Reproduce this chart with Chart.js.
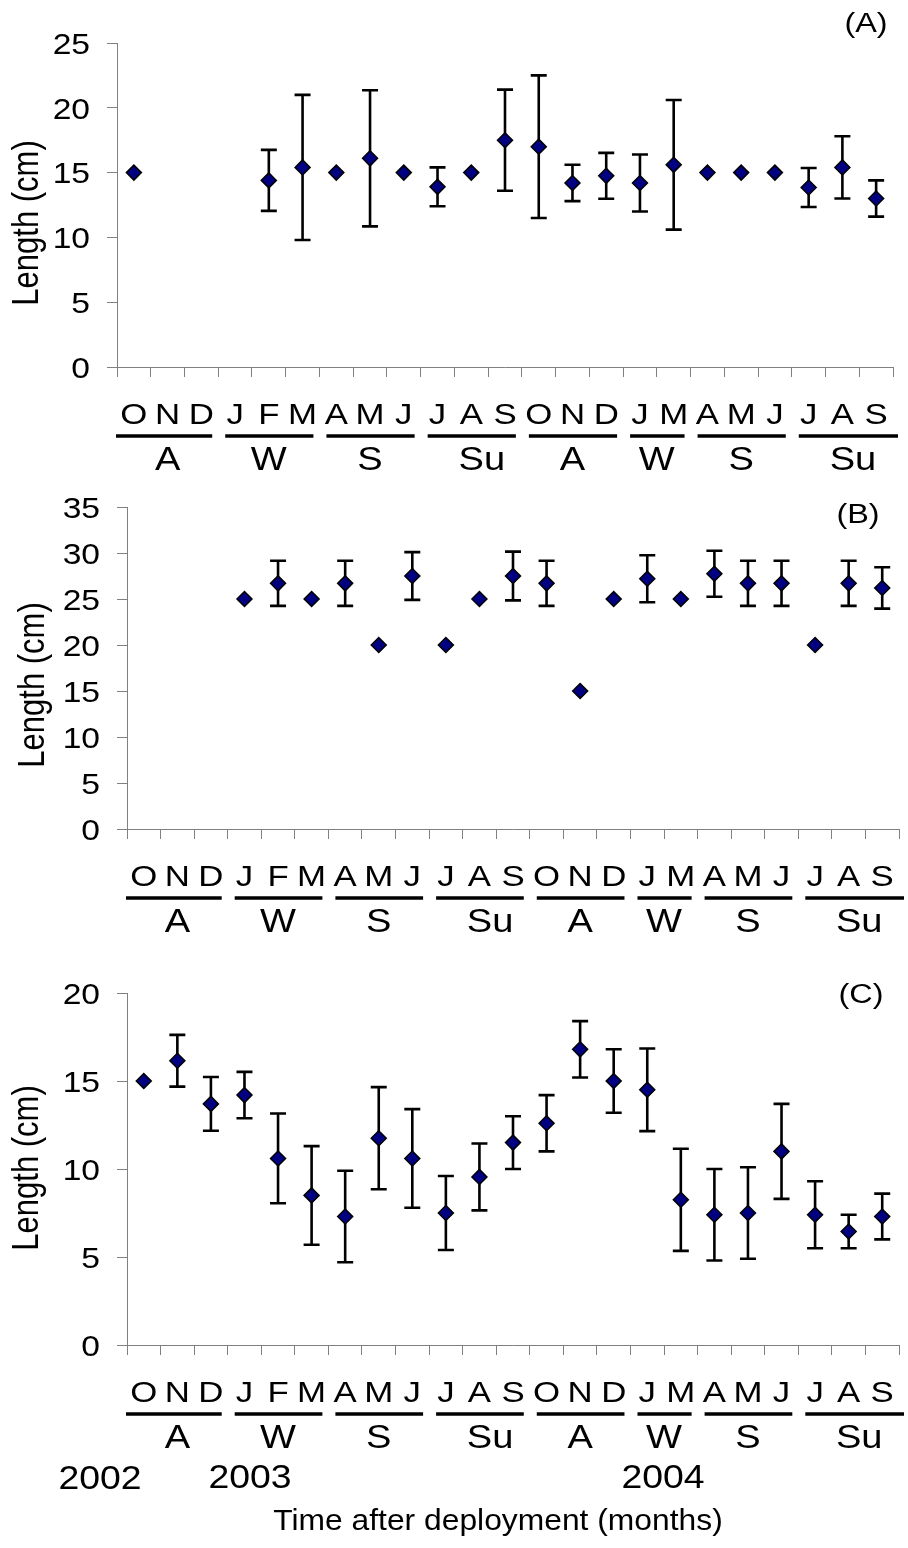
<!DOCTYPE html>
<html>
<head>
<meta charset="utf-8">
<script src="https://cdn.jsdelivr.net/npm/chart.js@4.4.0/dist/chart.umd.min.js"></script>
<style>
  html, body { margin: 0; padding: 0; background: #ffffff; }
  #wrap { position: relative; width: 908px; height: 1548px; }
  canvas { position: absolute; left: 0; }
</style>
</head>
<body>
<div id="wrap">
  <canvas id="chartA" width="908" height="480" style="top:0px"></canvas>
  <canvas id="chartB" width="908" height="480" style="top:480px"></canvas>
  <canvas id="chartC" width="908" height="588" style="top:960px"></canvas>
</div>
<script>
// months after deployment, Oct 2002 .. Sep 2004 (no Feb 2004 sample)
const months = ['O', 'N', 'D', 'J', 'F', 'M', 'A', 'M', 'J', 'J', 'A', 'S',
                'O', 'N', 'D', 'J', 'M', 'A', 'M', 'J', 'J', 'A', 'S'];
const seasons = ['A', 'W', 'S', 'Su', 'A', 'W', 'S', 'Su'];
const seasonFirst = [0, 3, 6, 9, 12, 15, 17, 20];
const seasonLast = [2, 5, 8, 11, 14, 16, 19, 22];
const years = ['2002', '2003', '2004'];

// panel A
const meanA = [15, null, null, null, 14.4, 15.4, 15, 16.1, 15, 13.9, 15, 17.5,
               17, 14.2, 14.75, 14.2, 15.6, 15, 15, 15, 13.85, 15.4, 13];
const sdA = [0, null, null, null, 2.35, 5.6, 0, 5.25, 0, 1.5, 0, 3.9,
             5.5, 1.4, 1.77, 2.2, 5.0, 0, 0, 0, 1.5, 2.4, 1.4];

// panel B
const meanB = [null, null, null, 25, 26.7, 25, 26.7, 20, 27.5, 20, 25, 27.5,
               26.7, 15, 25, 27.2, 25, 27.75, 26.7, 26.7, 20, 26.7, 26.2];
const sdB = [null, null, null, 0, 2.45, 0, 2.45, 0, 2.6, 0, 0, 2.65,
             2.45, 0, 0, 2.56, 0, 2.5, 2.45, 2.45, 0, 2.45, 2.25];

// panel C
const meanC = [15, 16.15, 13.7, 14.2, 10.6, 8.5, 7.3, 11.75, 10.6, 7.5, 9.55, 11.5,
               12.6, 16.8, 15.0, 14.5, 8.25, 7.4, 7.5, 11.0, 7.4, 6.45, 7.3];
const sdC = [0, 1.47, 1.53, 1.32, 2.55, 2.8, 2.6, 2.9, 2.8, 2.1, 1.9, 1.5,
             1.6, 1.6, 1.8, 2.35, 2.9, 2.6, 2.6, 2.7, 1.9, 0.95, 1.3];

const FONT = '"Liberation Sans", Arial, sans-serif';
const AXIS_GRAY = '#808080';

// text drawn slightly wider than tall, as in the original figure
function capText(ctx, s, x, cy, size, sx, align) {
  ctx.save();
  ctx.font = size + 'px ' + FONT;
  ctx.fillStyle = '#000';
  ctx.textAlign = align || 'center';
  ctx.textBaseline = 'alphabetic';
  ctx.translate(x, cy + size * 0.358);
  ctx.scale(sx, 1);
  ctx.fillText(s, 0, 0);
  ctx.restore();
}

function midText(ctx, s, x, cy, size, sx) {
  ctx.save();
  ctx.font = size + 'px ' + FONT;
  ctx.fillStyle = '#000';
  ctx.textAlign = 'center';
  ctx.textBaseline = 'middle';
  ctx.translate(x, cy);
  ctx.scale(sx, 1);
  ctx.fillText(s, 0, 0);
  ctx.restore();
}

const errorBars = {
  id: 'errorBars',
  beforeDatasetsDraw(chart) {
    const ctx = chart.ctx;
    const xs = chart.scales.x, ys = chart.scales.y;
    const { means, sds } = chart.options.plugins.errorBars;
    ctx.save();
    ctx.strokeStyle = '#000';
    ctx.lineWidth = 2.6;
    means.forEach((m, i) => {
      const sd = sds[i];
      if (m === null || !sd) return;
      const x = xs.getPixelForValue(i + 0.5);
      const yTop = ys.getPixelForValue(m + sd);
      const yBot = ys.getPixelForValue(m - sd);
      ctx.beginPath();
      ctx.moveTo(x, yTop); ctx.lineTo(x, yBot);
      ctx.moveTo(x - 8, yTop); ctx.lineTo(x + 8, yTop);
      ctx.moveTo(x - 8, yBot); ctx.lineTo(x + 8, yBot);
      ctx.stroke();
    });
    ctx.restore();
  }
};

function makeTextPlugin(p) {
  return {
    id: 'panelText',
    afterDraw(chart) {
      const ctx = chart.ctx;
      const xs = chart.scales.x, ys = chart.scales.y;
      const base = chart.chartArea.bottom;

      // y tick labels
      ys.ticks.forEach(t => {
        capText(ctx, String(t.value), p.tickRight, ys.getPixelForValue(t.value), 30, 1.12, 'right');
      });

      // y axis title
      ctx.save();
      ctx.font = '31px ' + FONT;
      ctx.fillStyle = '#000';
      ctx.textAlign = 'center';
      ctx.textBaseline = 'middle';
      ctx.translate(p.titleX, p.titleY);
      ctx.rotate(-Math.PI / 2);
      ctx.scale(1, 1.2);
      ctx.fillText('Length (cm)', 0, 0);
      ctx.restore();

      // month letters
      months.forEach((m, i) => {
        capText(ctx, m, xs.getPixelForValue(i + 0.5), base + 47, 29, 1.2);
      });

      // season underlines and labels
      ctx.save();
      ctx.strokeStyle = '#000';
      ctx.lineWidth = 3.5;
      seasons.forEach((s, k) => {
        let x0 = xs.getPixelForValue(seasonFirst[k]) + 7;
        let x1 = xs.getPixelForValue(seasonLast[k] + 1) - 6;
        if (k === 0) x0 = xs.getPixelForValue(0) - 1;
        if (k === seasons.length - 1) x1 = Math.min(xs.getPixelForValue(seasonLast[k] + 1) + 5, chart.width);
        ctx.beginPath();
        ctx.moveTo(x0, base + 69);
        ctx.lineTo(x1, base + 69);
        ctx.stroke();
        const cx = xs.getPixelForValue((seasonFirst[k] + seasonLast[k] + 1) / 2);
        if (s.length > 1) {
          // first letter sits over the centre of the group
          ctx.save();
          ctx.font = '34px ' + FONT;
          const w = ctx.measureText(s[0]).width * 1.12;
          ctx.restore();
          capText(ctx, s, cx - w / 2, base + 91, 34, 1.12, 'left');
        } else {
          capText(ctx, s, cx, base + 91, 34, 1.12);
        }
      });
      ctx.restore();

      // panel tag
      midText(ctx, p.tag, p.tagX, p.tagY, 27, 1.2);

      // years and x title on the last panel
      if (p.yearX) {
        years.forEach((y, k) => {
          capText(ctx, y, p.yearX[k], p.yearY[k], 34, 1.1);
        });
        midText(ctx, 'Time after deployment (months)', 498, p.xTitleY, 30, 1.06);
      }
    }
  };
}

function makePanel(p) {
  const points = [];
  p.means.forEach((m, i) => { if (m !== null) points.push({ x: i + 0.5, y: m }); });
  const gridOpts = {
    drawOnChartArea: false,
    drawTicks: true,
    tickLength: 10,
    color: AXIS_GRAY,
    lineWidth: 1
  };
  return new Chart(document.getElementById(p.id), {
    type: 'scatter',
    data: {
      datasets: [{
        data: points,
        pointStyle: 'rectRot',
        pointRadius: 7.5,
        backgroundColor: '#000080',
        borderColor: '#000000',
        borderWidth: 1.5
      }]
    },
    options: {
      responsive: false,
      animation: false,
      events: [],
      layout: { padding: { top: p.area.top, left: 0, right: p.width - p.area.right, bottom: 0 } },
      plugins: {
        legend: { display: false },
        tooltip: { enabled: false },
        errorBars: { means: p.means, sds: p.sds }
      },
      scales: {
        x: {
          type: 'linear',
          min: 0,
          max: months.length,
          afterFit: s => { s.height = p.height - p.area.bottom; },
          ticks: { display: false, stepSize: 1, maxTicksLimit: 40 },
          grid: gridOpts,
          border: { display: true, color: AXIS_GRAY, width: 1 }
        },
        y: {
          type: 'linear',
          min: 0,
          max: p.yMax,
          afterFit: s => { s.width = p.area.left; },
          ticks: { display: false, stepSize: 5 },
          grid: gridOpts,
          border: { display: true, color: AXIS_GRAY, width: 1 }
        }
      }
    },
    plugins: [errorBars, makeTextPlugin(p)]
  });
}

makePanel({
  id: 'chartA', width: 908, height: 480, means: meanA, sds: sdA, yMax: 25,
  area: { left: 117, top: 43, right: 893, bottom: 367 },
  tickRight: 90, titleX: 28, titleY: 223, tag: '(A)', tagX: 866, tagY: 25
});
makePanel({
  id: 'chartB', width: 908, height: 480, means: meanB, sds: sdB, yMax: 35,
  area: { left: 127, top: 27, right: 908, bottom: 349 },
  tickRight: 100, titleX: 34, titleY: 205, tag: '(B)', tagX: 858, tagY: 36
});
makePanel({
  id: 'chartC', width: 908, height: 588, means: meanC, sds: sdC, yMax: 20,
  area: { left: 127, top: 33, right: 908, bottom: 385 },
  tickRight: 100, titleX: 27.5, titleY: 208, tag: '(C)', tagX: 861, tagY: 36,
  yearX: [100, 250, 663], yearY: [517, 516, 516], xTitleY: 562
});
</script>
</body>
</html>
